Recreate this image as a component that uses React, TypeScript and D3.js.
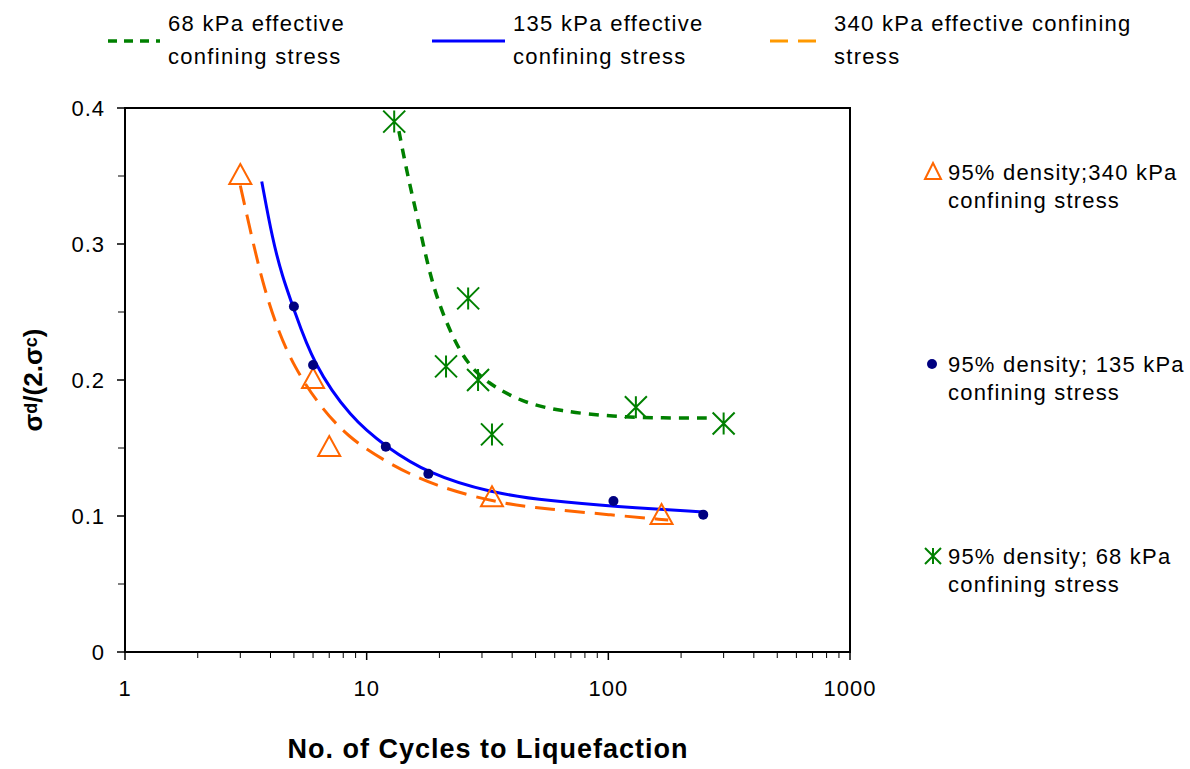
import React, { useEffect, useRef } from "react";
import * as d3 from "d3";

// measured points, [cycles, stress ratio]
const tri340: [number, number][] = [
  [3, 0.35], [6, 0.2], [7, 0.15], [33, 0.113], [166, 0.1],
];
const dot135: [number, number][] = [
  [5, 0.254], [6, 0.211], [12, 0.151], [18, 0.131], [105, 0.111], [247, 0.101],
];
const star68: [number, number][] = [
  [13, 0.39], [26.3, 0.26], [21.3, 0.21], [28.9, 0.2], [33, 0.16], [130, 0.18], [300, 0.168],
];

// trend curves
const curve135: [number, number][] = [
  [3.68, 0.346], [4.08, 0.303], [4.48, 0.276], [5, 0.252], [6, 0.212], [8.6, 0.172],
  [12, 0.151], [18, 0.131], [32.5, 0.117], [57.6, 0.111], [105, 0.107], [247, 0.103],
];
const curve340: [number, number][] = [
  [3.0, 0.343], [3.27, 0.313], [3.71, 0.271], [4.28, 0.237], [5.0, 0.21], [6.26, 0.183],
  [8.32, 0.158], [12.2, 0.139], [19, 0.122], [35.8, 0.109], [57.6, 0.105], [100, 0.101], [177, 0.097],
];
const curve68: [number, number][] = [
  [13.6, 0.383], [14.7, 0.352], [16.2, 0.32], [17.8, 0.286], [19.6, 0.259], [22.6, 0.232],
  [26.1, 0.212], [31.5, 0.198], [43.3, 0.184], [63.2, 0.177], [105, 0.173], [169, 0.172], [264, 0.172],
];

const xTicks = [1, 10, 100, 1000];
const yTicks = [0, 0.1, 0.2, 0.3, 0.4];
const yMinor = [0.05, 0.15, 0.25, 0.35];

const topLegend = [
  { lines: ["68 kPa effective", "confining stress"], color: "#008000", dash: "9,7", width: 3.5 },
  { lines: ["135 kPa effective", "confining stress"], color: "#0000FF", dash: null, width: 3 },
  { lines: ["340 kPa effective confining", "stress"], color: "#FF9900", dash: "18,10", width: 3 },
];
const sideLegend = [
  { lines: ["95% density;340 kPa", "confining stress"], marker: "tri" },
  { lines: ["95% density; 135 kPa", "confining stress"], marker: "dot" },
  { lines: ["95% density; 68 kPa", "confining stress"], marker: "star" },
];

const FONT = "'Liberation Sans', Arial, sans-serif";

export default function App() {
  const svgRef = useRef<SVGSVGElement>(null);

  useEffect(() => {
    const svg = d3.select(svgRef.current);
    svg.selectAll("*").remove();

    const left = 125, right = 850, top = 108, bottom = 652;
    const x = d3.scaleLog().domain([1, 1000]).range([left, right]);
    const y = d3.scaleLinear().domain([0, 0.4]).range([bottom, top]);

    svg.append("rect").attr("width", 1190).attr("height", 769).attr("fill", "#fff");

    // plot frame
    svg.append("rect")
      .attr("x", left).attr("y", top)
      .attr("width", right - left).attr("height", bottom - top)
      .attr("fill", "none").attr("stroke", "#000").attr("stroke-width", 2);

    // y ticks
    const yg = svg.append("g");
    yTicks.forEach((t) => {
      yg.append("line").attr("x1", left - 8).attr("x2", left)
        .attr("y1", y(t)).attr("y2", y(t)).attr("stroke", "#000").attr("stroke-width", 1.5);
      yg.append("text").attr("x", 105).attr("y", y(t)).attr("dy", "0.35em")
        .attr("text-anchor", "end").attr("font-size", 22).attr("letter-spacing", 1)
        .attr("font-family", FONT).text(d3.format("")(t));
    });
    yMinor.forEach((t) => {
      yg.append("line").attr("x1", left - 7).attr("x2", left)
        .attr("y1", y(t)).attr("y2", y(t)).attr("stroke", "#000").attr("stroke-width", 1);
    });

    // x ticks (log)
    const xg = svg.append("g");
    for (let dec = 1; dec < 1000; dec *= 10) {
      for (let m = 2; m <= 9; m++) {
        xg.append("line").attr("x1", x(dec * m)).attr("x2", x(dec * m))
          .attr("y1", bottom).attr("y2", bottom + 6).attr("stroke", "#000").attr("stroke-width", 1);
      }
    }
    xTicks.forEach((t) => {
      xg.append("line").attr("x1", x(t)).attr("x2", x(t))
        .attr("y1", bottom).attr("y2", bottom + 8).attr("stroke", "#000").attr("stroke-width", 1.5);
      xg.append("text").attr("x", x(t)).attr("y", 696)
        .attr("text-anchor", "middle").attr("font-size", 22).attr("letter-spacing", 1)
        .attr("font-family", FONT).text(String(t));
    });

    // axis titles
    svg.append("text").attr("x", 488).attr("y", 758)
      .attr("text-anchor", "middle").attr("font-size", 27).attr("font-weight", "bold")
      .attr("letter-spacing", 1).attr("font-family", FONT)
      .text("No. of Cycles to Liquefaction");

    const yt = svg.append("text")
      .attr("transform", "translate(42,380) rotate(-90)")
      .attr("text-anchor", "middle").attr("font-size", 26).attr("font-weight", "bold")
      .attr("font-family", FONT);
    yt.append("tspan").text("σ");
    yt.append("tspan").attr("font-size", 18).attr("dy", -5).text("d");
    yt.append("tspan").attr("dy", 5).text("/(2.σ");
    yt.append("tspan").attr("font-size", 18).attr("dy", -5).text("c");
    yt.append("tspan").attr("dy", 5).text(")");

    // curves
    const line = d3.line<[number, number]>()
      .x((d) => x(d[0])).y((d) => y(d[1]))
      .curve(d3.curveBasis);

    svg.append("path").datum(curve68).attr("d", line)
      .attr("fill", "none").attr("stroke", "#008000").attr("stroke-width", 3.5)
      .attr("stroke-dasharray", "10,8");
    svg.append("path").datum(curve340).attr("d", line)
      .attr("fill", "none").attr("stroke", "#FF6600").attr("stroke-width", 3)
      .attr("stroke-dasharray", "20,10");
    svg.append("path").datum(curve135).attr("d", line)
      .attr("fill", "none").attr("stroke", "#0000FF").attr("stroke-width", 3);

    // markers
    const triPath = (cx: number, cy: number) =>
      `M${cx},${cy - 12}L${cx + 11},${cy + 8}L${cx - 11},${cy + 8}Z`;
    const starPath = (cx: number, cy: number) => {
      const r = 11;
      return `M${cx},${cy - r}V${cy + r}M${cx - r},${cy - r}L${cx + r},${cy + r}M${cx - r},${cy + r}L${cx + r},${cy - r}`;
    };

    svg.append("g").selectAll("path").data(tri340).enter().append("path")
      .attr("d", (d) => triPath(x(d[0]), y(d[1])))
      .attr("fill", "none").attr("stroke", "#FF6600").attr("stroke-width", 2);
    svg.append("g").selectAll("circle").data(dot135).enter().append("circle")
      .attr("cx", (d) => x(d[0])).attr("cy", (d) => y(d[1])).attr("r", 5)
      .attr("fill", "#000080");
    svg.append("g").selectAll("path").data(star68).enter().append("path")
      .attr("d", (d) => starPath(x(d[0]), y(d[1])))
      .attr("fill", "none").attr("stroke", "#008000").attr("stroke-width", 2);

    // top legend
    const tlX = [108, 432, 770];
    const tlW = [52, 73, 56];
    topLegend.forEach((item, i) => {
      const g = svg.append("g");
      const ln = g.append("line").attr("x1", tlX[i]).attr("x2", tlX[i] + tlW[i])
        .attr("y1", 41).attr("y2", 41).attr("stroke", item.color).attr("stroke-width", item.width);
      if (item.dash) ln.attr("stroke-dasharray", item.dash);
      item.lines.forEach((s, j) => {
        g.append("text").attr("x", tlX[i] + tlW[i] + 8).attr("y", 31 + j * 33)
          .attr("font-size", 22).attr("letter-spacing", 1.3).attr("font-family", FONT).text(s);
      });
    });

    // side legend
    const slY = [172, 364, 556];
    sideLegend.forEach((item, i) => {
      const g = svg.append("g");
      const cy = slY[i];
      if (item.marker === "tri") {
        g.append("path").attr("d", `M933,${cy - 9}L941,${cy + 7}L925,${cy + 7}Z`)
          .attr("fill", "none").attr("stroke", "#FF6600").attr("stroke-width", 2);
      } else if (item.marker === "dot") {
        g.append("circle").attr("cx", 932).attr("cy", cy).attr("r", 5).attr("fill", "#000080");
      } else {
        const r = 8;
        g.append("path")
          .attr("d", `M933,${cy - r}V${cy + r}M${933 - r},${cy - r}L${933 + r},${cy + r}M${933 - r},${cy + r}L${933 + r},${cy - r}`)
          .attr("fill", "none").attr("stroke", "#008000").attr("stroke-width", 2);
      }
      item.lines.forEach((s, j) => {
        g.append("text").attr("x", 948).attr("y", cy + 8 + j * 28)
          .attr("font-size", 22).attr("letter-spacing", 1.2).attr("font-family", FONT).text(s);
      });
    });
  }, []);

  return (
    <svg
      ref={svgRef}
      width={1190}
      height={769}
      style={{ display: "block", position: "absolute", left: 0, top: 0 }}
    ></svg>
  );
}
